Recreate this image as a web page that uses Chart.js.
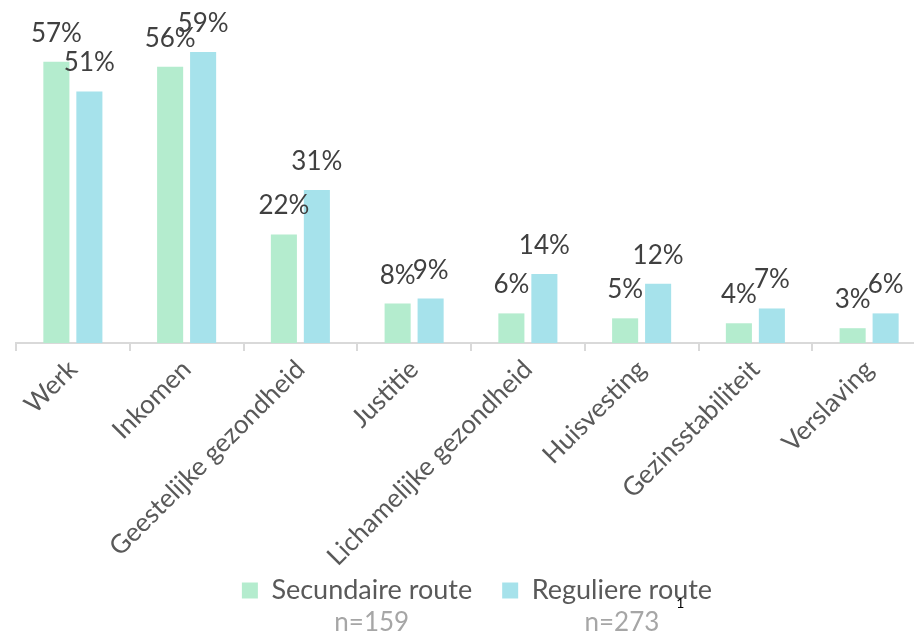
<!DOCTYPE html>
<html lang="nl">
<head>
    <meta charset="UTF-8">
    <title>Secundaire vs reguliere route</title>
    <script src="https://cdn.jsdelivr.net/npm/chart.js"></script>
    <style>
        body { margin: 0; overflow: hidden; background: #fff; }
        #wrap { width: 926px; height: 633px; }
    </style>
</head>
<body>
    <div id="wrap"><canvas id="myChart"></canvas></div>

    <script>
        // data
        const categories = ['Werk', 'Inkomen', 'Geestelijke gezondheid', 'Justitie',
            'Lichamelijke gezondheid', 'Huisvesting', 'Gezinsstabiliteit', 'Verslaving'];
        const secundaire = [57, 56, 22, 8, 6, 5, 4, 3];
        const reguliere = [51, 59, 31, 9, 14, 12, 7, 6];
        const seriesNames = ['Secundaire route', 'Reguliere route'];
        const sampleSizes = ['n=159', 'n=273'];

        const FONT = 'Lato, "Open Sans", sans-serif';

        // waarden boven de staven
        const valueLabels = {
            id: 'valueLabels',
            afterDatasetsDraw(chart) {
                const ctx = chart.ctx;
                ctx.save();
                ctx.font = '26px ' + FONT;
                ctx.fillStyle = '#404040';
                ctx.textAlign = 'center';
                ctx.textBaseline = 'alphabetic';
                chart.data.datasets.forEach((ds, i) => {
                    chart.getDatasetMeta(i).data.forEach((bar, j) => {
                        ctx.fillText(ds.data[j] + '%', bar.x, bar.y - 20);
                    });
                });
                ctx.restore();
            }
        };

        // n= onder de legenda + voetnoot
        const legendNotes = {
            id: 'legendNotes',
            afterLayout(chart) {
                chart.legend.left += 6;
                chart.legend.right += 6;
                // lange labels mogen tot onderaan doorlopen (niet afknippen)
                chart.scales.x.bottom = chart.height;
            },
            afterDraw(chart) {
                const lg = chart.legend;
                const ctx = chart.ctx;
                const box = 16;
                const half = 27 / 2;
                ctx.save();
                ctx.font = '26px ' + FONT;
                ctx.fillStyle = '#a6a6a6';
                ctx.textAlign = 'center';
                ctx.textBaseline = 'alphabetic';
                let lastRight = 0;
                lg.legendHitBoxes.forEach((hb, i) => {
                    const textLeft = hb.left + box + half;
                    const cx = (textLeft + hb.left + hb.width) / 2;
                    ctx.fillText(sampleSizes[i], cx, 631);
                    lastRight = cx + ctx.measureText(sampleSizes[i]).width / 2;
                });
                ctx.font = '14px ' + FONT;
                ctx.fillStyle = '#000';
                ctx.textAlign = 'left';
                ctx.fillText('1', lastRight + 17, 608);
                ctx.restore();
            }
        };

        const ctx = document.getElementById('myChart').getContext('2d');
        const myChart = new Chart(ctx, {
            type: 'bar',
            data: {
                labels: categories,
                datasets: [
                    {
                        label: seriesNames[0],
                        data: secundaire,
                        backgroundColor: '#b4ecce',
                        categoryPercentage: 0.58,
                        barPercentage: 0.79
                    },
                    {
                        label: seriesNames[1],
                        data: reguliere,
                        backgroundColor: '#a6e2eb',
                        categoryPercentage: 0.58,
                        barPercentage: 0.79
                    }
                ]
            },
            options: {
                responsive: true,
                maintainAspectRatio: false,
                animation: false,
                layout: {
                    padding: { top: 47, left: 16, right: 0, bottom: 19 }
                },
                plugins: {
                    tooltip: { enabled: false },
                    legend: {
                        position: 'bottom',
                        labels: {
                            boxWidth: 16,
                            boxHeight: 16,
                            padding: 30,
                            color: '#595959',
                            font: { family: FONT, size: 27 }
                        }
                    }
                },
                scales: {
                    x: {
                        grid: {
                            drawOnChartArea: false,
                            drawTicks: true,
                            tickLength: 8,
                            color: '#d9d9d9',
                            lineWidth: 2
                        },
                        border: { color: '#d9d9d9', width: 2 },
                        ticks: {
                            autoSkip: false,
                            minRotation: 45,
                            maxRotation: 45,
                            color: '#595959',
                            font: { family: FONT, size: 26 }
                        },
                        afterFit: (scale) => {
                            scale.height = 204;
                        }
                    },
                    y: {
                        display: false,
                        min: 0,
                        max: 60
                    }
                }
            },
            plugins: [valueLabels, legendNotes]
        });
    </script>
</body>
</html>
